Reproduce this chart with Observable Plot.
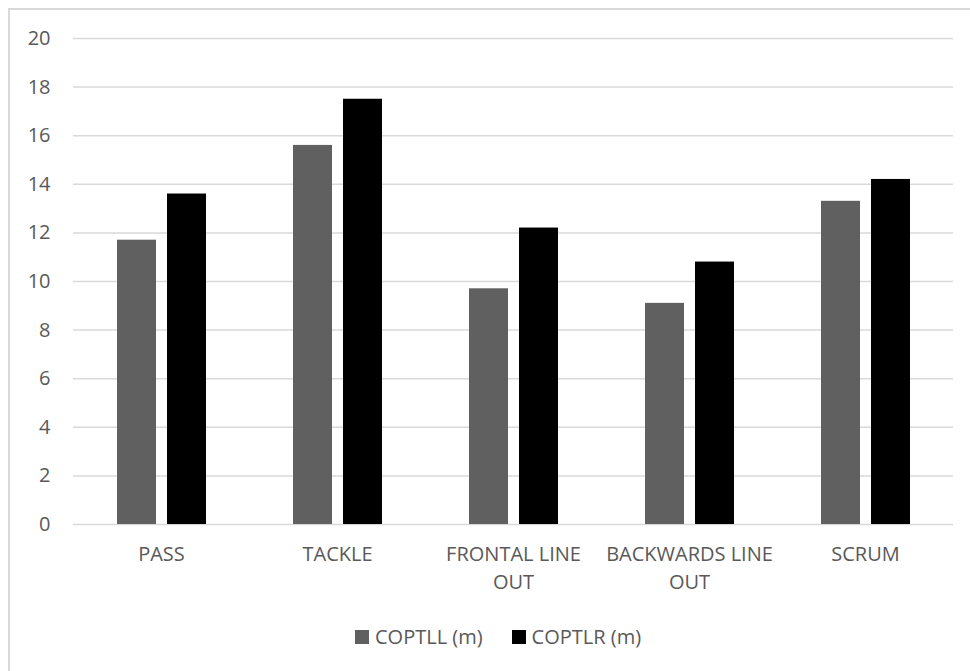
<!DOCTYPE html>
<html>
<head>
<meta charset="utf-8">
<script src="https://cdn.jsdelivr.net/npm/d3@7"></script>
<script src="https://cdn.jsdelivr.net/npm/@observablehq/plot@0.6"></script>
<style>
  html, body { margin: 0; padding: 0; background: #fff; }
  body { width: 970px; height: 671px; position: relative; overflow: hidden; font-family: "Open Sans", sans-serif; }
  #frame { position: absolute; left: 8px; top: 8px; width: 980px; height: 680px; border: 2px solid #d9d9d9; box-sizing: border-box; pointer-events: none; }
  #chart { position: absolute; left: 0; top: 0; }
  #legend { position: absolute; left: 355px; top: 623px; display: flex; align-items: center; font-size: 20px; color: #595959; line-height: 28px; }
  #legend .item { display: flex; align-items: center; margin-right: 29px; }
  #legend .sw { width: 14px; height: 14px; margin-right: 6px; }
</style>
</head>
<body>
<div id="chart"></div>
<div id="legend"></div>
<div id="frame"></div>
<script>
// Movement categories and their axis labels
const categories = ["PASS", "TACKLE", "FRONTAL LINE OUT", "BACKWARDS LINE OUT", "SCRUM"];
const categoryLabels = ["PASS", "TACKLE", "FRONTAL LINE\nOUT", "BACKWARDS LINE\nOUT", "SCRUM"];

// Series
const series = ["COPTLL (m)", "COPTLR (m)"];
const seriesColors = ["#606060", "#000000"];

// Values per category, in category order
const copTLL = [11.7, 15.6, 9.7, 9.1, 13.3];
const copTLR = [13.6, 17.5, 12.2, 10.8, 14.2];

// Y axis ticks
const yTicks = [0, 2, 4, 6, 8, 10, 12, 14, 16, 18, 20];

const rows = [];
categories.forEach((c, i) => {
  rows.push({category: c, series: series[0], value: copTLL[i]});
  rows.push({category: c, series: series[1], value: copTLR[i]});
});

const labelOf = new Map(categories.map((c, i) => [c, categoryLabels[i]]));

const chart = Plot.plot({
  width: 970,
  height: 610,
  marginLeft: 73,
  marginRight: 17,
  marginTop: 38,
  marginBottom: 86,
  style: {fontFamily: "'Open Sans', sans-serif", fontSize: "20px", color: "#595959", background: "transparent"},
  fx: {domain: categories, padding: 0, label: null},
  x: {domain: series, paddingInner: 0.228, paddingOuter: 0.856, axis: null},
  y: {domain: [0, 20], label: null},
  color: {domain: series, range: seriesColors},
  marks: [
    Plot.gridY(yTicks, {stroke: "#d9d9d9", strokeOpacity: 1, strokeWidth: 1.5}),
    Plot.axisY(yTicks, {tickSize: 0, tickPadding: 23, fill: "#595959", fontSize: 20, label: null}),
    Plot.axisFx({anchor: "bottom", tickSize: 0, tickPadding: 17, fontSize: 20, fill: "#595959", lineHeight: 1.4, label: null,
                 tickFormat: (d) => labelOf.get(d)}),
    Plot.barY(rows, {fx: "category", x: "series", y: "value", fill: "series"})
  ]
});
document.getElementById("chart").appendChild(chart);

// Legend below the chart
const legend = d3.select("#legend");
series.forEach((s, i) => {
  const item = legend.append("div").attr("class", "item");
  item.append("div").attr("class", "sw").style("background", seriesColors[i]);
  item.append("span").text(s);
});
</script>
</body>
</html>
